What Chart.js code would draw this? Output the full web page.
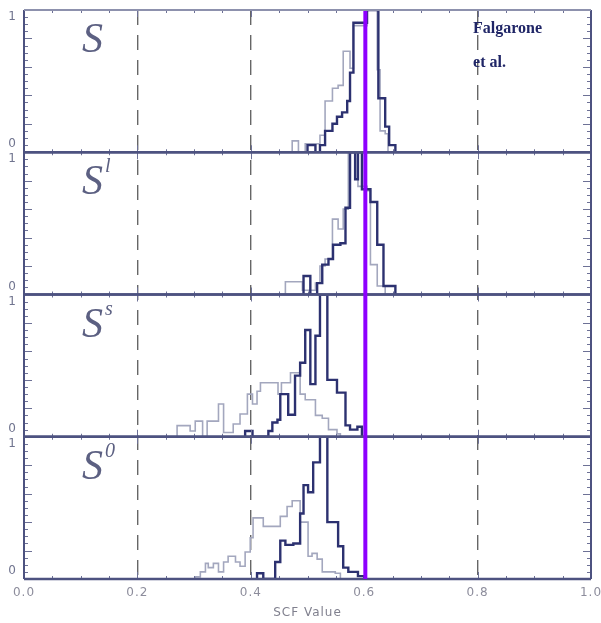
<!DOCTYPE html>
<html>
<head>
<meta charset="utf-8">
<script src="https://cdn.jsdelivr.net/npm/chart.js@4.4.0/dist/chart.umd.min.js"></script>
<style>
html,body{margin:0;padding:0;background:#ffffff;}
#wrap{width:601px;height:623px;position:relative;}
</style>
</head>
<body>
<div id="wrap"><canvas id="c" width="601" height="623"></canvas></div>
<script>
// ---------------- data ----------------
const xTickValues = [0.0, 0.2, 0.4, 0.6, 0.8, 1.0];
const dashedGridValues = [0.2, 0.4, 0.6, 0.8];
const markerValue = 0.602;          // purple vertical line
const creditLines = ['Falgarone', 'et al.'];
const axisTitle = 'SCF Value';

// panel order, top to bottom
const panelNames = ['S', 'Sl', 'Ss', 'S0'];
const panelBase = ['S', 'S', 'S', 'S'];
const panelSup  = ['', 'l', 's', '0'];

// Panel S
const sThickEdges  = [0.500, 0.514, 0.522, 0.531, 0.544, 0.552, 0.561, 0.570, 0.575, 0.581, 0.605, 0.625, 0.637, 0.644, 0.655];
const sThickCounts = [0.05, 0.00, 0.05, 0.15, 0.20, 0.25, 0.28, 0.36, 0.56, 0.91, 1.00, 0.38, 0.18, 0.05];
const sThinEdges   = [0.473, 0.484, 0.496, 0.522, 0.531, 0.544, 0.554, 0.563, 0.575, 0.581, 0.605, 0.623, 0.628, 0.637, 0.642];
const sThinCounts  = [0.08, 0.00, 0.06, 0.12, 0.36, 0.45, 0.47, 0.71, 0.59, 0.89, 1.00, 0.58, 0.15, 0.13];

// Panel S^l
const slThickEdges  = [0.493, 0.505, 0.517, 0.526, 0.537, 0.545, 0.558, 0.567, 0.575, 0.584, 0.589, 0.596, 0.611, 0.623, 0.634, 0.655];
const slThickCounts = [0.13, 0.00, 0.08, 0.21, 0.25, 0.35, 0.36, 0.61, 1.00, 0.81, 1.00, 0.74, 0.65, 0.35, 0.06];
const slThinEdges   = [0.461, 0.491, 0.514, 0.522, 0.531, 0.544, 0.554, 0.563, 0.572, 0.589, 0.605, 0.611, 0.623, 0.637];
const slThinCounts  = [0.09, 0.03, 0.08, 0.20, 0.25, 0.53, 0.46, 0.60, 1.00, 0.76, 0.73, 0.21, 0.06];

// Panel S^s
const ssThickEdges  = [0.390, 0.403, 0.431, 0.438, 0.447, 0.452, 0.466, 0.478, 0.487, 0.496, 0.505, 0.514, 0.522, 0.535, 0.552, 0.567, 0.575, 0.588, 0.596];
const ssThickCounts = [0.04, 0.00, 0.04, 0.10, 0.12, 0.30, 0.155, 0.43, 0.52, 0.75, 0.37, 0.71, 1.00, 0.40, 0.31, 0.08, 0.05, 0.07];
const ssThinEdges   = [0.270, 0.293, 0.302, 0.315, 0.323, 0.343, 0.352, 0.369, 0.381, 0.394, 0.403, 0.411, 0.417, 0.448, 0.454, 0.470, 0.487, 0.496, 0.514, 0.526, 0.537, 0.552, 0.558];
const ssThinCounts  = [0.078, 0.04, 0.11, 0.00, 0.11, 0.23, 0.03, 0.09, 0.16, 0.30, 0.23, 0.32, 0.38, 0.30, 0.38, 0.45, 0.30, 0.26, 0.15, 0.13, 0.05, 0.02];

// Panel S^0
const s0ThickEdges  = [0.411, 0.422, 0.443, 0.452, 0.461, 0.475, 0.487, 0.493, 0.501, 0.510, 0.522, 0.535, 0.554, 0.563, 0.572, 0.589, 0.600];
const s0ThickCounts = [0.04, 0.00, 0.12, 0.27, 0.24, 0.25, 0.46, 0.66, 0.61, 0.82, 1.00, 0.40, 0.23, 0.08, 0.05, 0.02];
const s0ThinEdges   = [0.302, 0.311, 0.320, 0.325, 0.334, 0.343, 0.352, 0.360, 0.373, 0.381, 0.390, 0.399, 0.404, 0.422, 0.452, 0.464, 0.473, 0.487, 0.501, 0.508, 0.517, 0.526, 0.549, 0.558];
const s0ThinCounts  = [0.015, 0.05, 0.11, 0.08, 0.11, 0.05, 0.12, 0.16, 0.12, 0.09, 0.19, 0.29, 0.43, 0.37, 0.44, 0.51, 0.55, 0.40, 0.16, 0.18, 0.14, 0.05, 0.04];

// ---------------- styles ----------------
const thickColor = '#2c3170';
const thinColor  = '#a3a7be';
const frameColor = '#4d5280';
const tickColor  = '#6d7196';
const markerColor = '#8d00ff';
const labelColor = '#5c6082';

function stepPoints(edges, counts) {
  const pts = [{x: edges[0], y: 0}];
  counts.forEach((c, i) => pts.push({x: edges[i], y: c}));
  pts.push({x: edges[edges.length - 1], y: 0});
  return pts;
}

const series = {
  S:  [sThickEdges, sThickCounts, sThinEdges, sThinCounts],
  Sl: [slThickEdges, slThickCounts, slThinEdges, slThinCounts],
  Ss: [ssThickEdges, ssThickCounts, ssThinEdges, ssThinCounts],
  S0: [s0ThickEdges, s0ThickCounts, s0ThinEdges, s0ThinCounts]
};

const datasets = [];
panelNames.forEach(name => {
  const [te, tc, le, lc] = series[name];
  datasets.push({
    label: name + ' thin', data: stepPoints(le, lc), yAxisID: 'y' + name,
    stepped: 'before', borderColor: thinColor, borderWidth: 1.6, pointRadius: 0, fill: false, order: 2
  });
  datasets.push({
    label: name + ' thick', data: stepPoints(te, tc), yAxisID: 'y' + name,
    stepped: 'before', borderColor: thickColor, borderWidth: 2.4, pointRadius: 0, fill: false, order: 1
  });
});

const scales = {
  x: {
    type: 'linear', min: 0, max: 1, position: 'bottom',
    afterBuildTicks: s => { s.ticks = xTickValues.map(v => ({value: v})); },
    afterFit: s => { s.paddingLeft = 0; s.paddingRight = 0; },
    ticks: {
      callback: v => Number(v).toFixed(1), color: '#8d8d9c', padding: 8,
      font: {family: 'DejaVu Sans', size: 12, lineHeight: 1.0}, maxRotation: 0, autoSkip: false
    },
    grid: {
      drawTicks: false, lineWidth: 1.4,
      color: ctx => (ctx.tick && dashedGridValues.some(d => Math.abs(d - ctx.tick.value) < 1e-6)) ? '#666666' : 'rgba(0,0,0,0)'
    },
    border: {display: false, dash: [15, 10]},
    title: {display: true, text: axisTitle, color: '#80808e', font: {family: 'DejaVu Sans', size: 12, lineHeight: 1.0}, padding: {top: 0, bottom: 2}}
  }
};
// stacked left column: the last-defined scale is placed on top
panelNames.slice().reverse().forEach(name => {
  scales['y' + name] = {
    type: 'linear', min: 0, max: 1, position: 'left', stack: 'panels', stackWeight: 1, offset: false,
    ticks: {display: false}, grid: {display: false, drawTicks: false}, border: {display: false}
  };
});

const decor = {
  id: 'decor',
  beforeDraw(chart) {
    chart.ctx.letterSpacing = '1px';
  },
  afterDatasetsDraw(chart) {
    const {ctx, chartArea} = chart;
    const xs = chart.scales.x;
    ctx.save();
    ctx.letterSpacing = '0px';
    ctx.strokeStyle = tickColor;
    ctx.lineWidth = 1;
    panelNames.forEach(name => {
      const ys = chart.scales['y' + name];
      const top = ys.getPixelForValue(1), bot = ys.getPixelForValue(0);
      ctx.beginPath();
      for (let k = 1; k < 20; k++) {
        const py = Math.round(ys.getPixelForValue(k * 0.05)) + 0.5;
        const len = (k % 4 === 0) ? 8 : 4;
        ctx.moveTo(chartArea.left, py); ctx.lineTo(chartArea.left + len, py);
        ctx.moveTo(chartArea.right, py); ctx.lineTo(chartArea.right - len, py);
      }
      for (let k = 1; k < 20; k++) {
        const px = Math.round(xs.getPixelForValue(k * 0.05)) + 0.5;
        const len = (k % 4 === 0) ? 7 : 3;
        ctx.moveTo(px, top); ctx.lineTo(px, top + len);
        ctx.moveTo(px, bot); ctx.lineTo(px, bot - len);
      }
      ctx.stroke();
    });
    ctx.strokeStyle = frameColor;
    ctx.lineWidth = 2;
    ctx.beginPath();
    ctx.moveTo(chartArea.left, chartArea.top); ctx.lineTo(chartArea.left, chartArea.bottom);
    ctx.moveTo(chartArea.right, chartArea.top); ctx.lineTo(chartArea.right, chartArea.bottom);
    ctx.stroke();
    panelNames.forEach((name, i) => {
      const ys = chart.scales['y' + name];
      const top = ys.getPixelForValue(1), bot = ys.getPixelForValue(0);
      ctx.lineWidth = (i === 0) ? 2 : 2.6;
      ctx.strokeStyle = (i === 0) ? '#8d91ad' : frameColor;
      ctx.beginPath(); ctx.moveTo(chartArea.left, top); ctx.lineTo(chartArea.right, top); ctx.stroke();
      ctx.lineWidth = 2.6; ctx.strokeStyle = frameColor;
      ctx.beginPath(); ctx.moveTo(chartArea.left, bot); ctx.lineTo(chartArea.right, bot); ctx.stroke();
      ctx.fillStyle = '#70748f';
      ctx.font = '12px "DejaVu Sans"';
      ctx.textAlign = 'right';
      ctx.textBaseline = 'middle';
      ctx.fillText('1', chartArea.left - 8, top + 7);
      ctx.fillText('0', chartArea.left - 8, bot - 8);
      ctx.fillStyle = labelColor;
      ctx.textAlign = 'left';
      ctx.textBaseline = 'alphabetic';
      ctx.font = 'italic 42px "Liberation Serif"';
      const lx = chartArea.left + 58;
      ctx.fillText(panelBase[i], lx, top + 42);
      const w = ctx.measureText(panelBase[i]).width;
      if (panelSup[i]) {
        ctx.font = 'italic 20px "Liberation Serif"';
        ctx.fillText(panelSup[i], lx + w + 2, top + 20);
      }
    });
    const mx = xs.getPixelForValue(markerValue);
    ctx.strokeStyle = markerColor;
    ctx.lineWidth = 4;
    ctx.beginPath(); ctx.moveTo(mx, chartArea.top + 1); ctx.lineTo(mx, chartArea.bottom); ctx.stroke();
    ctx.fillStyle = '#1f2566';
    ctx.font = 'bold 16px "Liberation Serif"';
    ctx.textAlign = 'left';
    ctx.textBaseline = 'alphabetic';
    ctx.fillText(creditLines[0], xs.getPixelForValue(0.792), chartArea.top + 23);
    ctx.fillText(creditLines[1], xs.getPixelForValue(0.792), chartArea.top + 57);
    ctx.restore();
  }
};

new Chart(document.getElementById('c'), {
  type: 'line',
  data: {datasets},
  options: {
    responsive: false, animation: false, devicePixelRatio: 1,
    layout: {padding: {left: 24, right: 10, top: 10, bottom: 2}},
    plugins: {legend: {display: false}, tooltip: {enabled: false}},
    scales
  },
  plugins: [decor]
});
</script>
</body>
</html>
